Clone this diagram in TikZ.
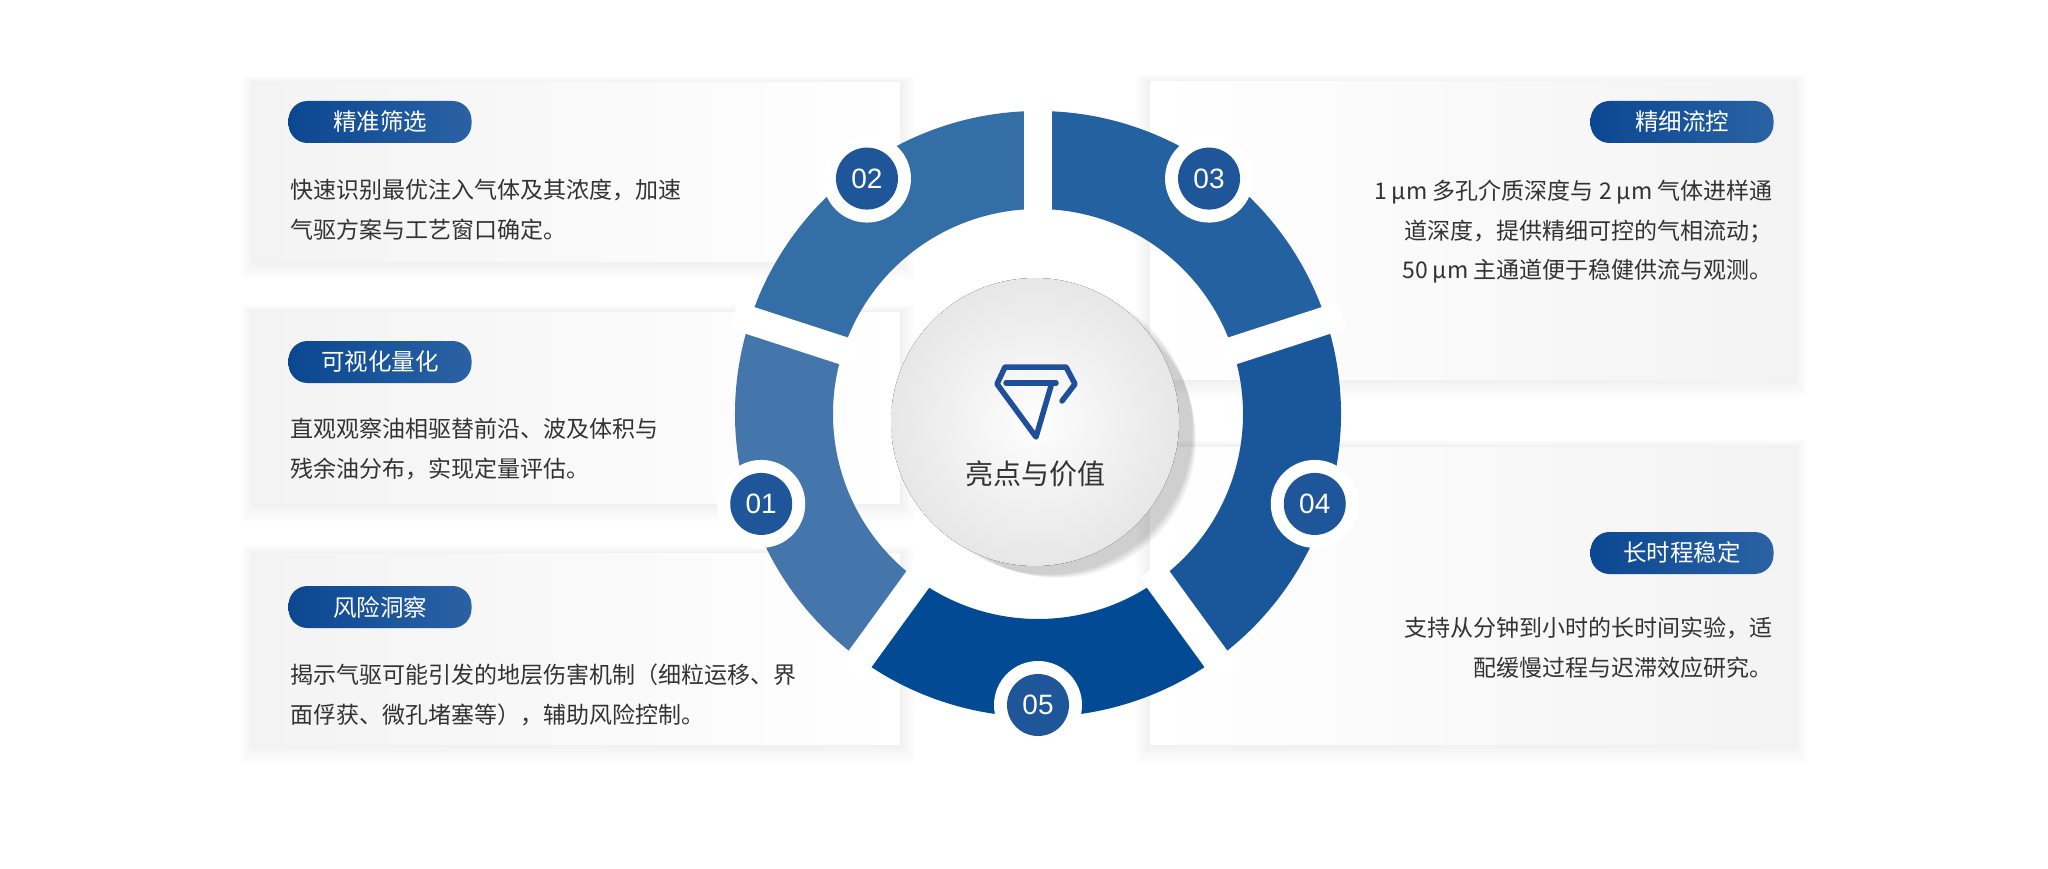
\documentclass[tikz,border=0pt]{standalone}
\usepackage{fontspec}
\setmainfont{Noto Sans CJK SC}
\newfontfamily\numfont{Liberation Sans}
\usetikzlibrary{calc}
\definecolor{txt}{HTML}{333333}
\definecolor{pillL}{HTML}{0B4791}
\definecolor{pillR}{HTML}{2A62A4}
\definecolor{segA}{HTML}{2461A0}
\definecolor{segB}{HTML}{336EA7}
\definecolor{segC}{HTML}{4476AC}
\definecolor{segD}{HTML}{024A93}
\definecolor{segE}{HTML}{19579A}
\definecolor{numc}{HTML}{1F5599}
\definecolor{cardg}{HTML}{F3F3F3}
\definecolor{icon}{HTML}{1F4E9A}
\tikzset{
  body/.style={font=\fontsize{23}{39.5}\selectfont, text=txt, inner sep=0pt, align=left},
  bodyr/.style={font=\fontsize{23}{39.5}\selectfont, text=txt, inner sep=0pt, align=right},
  pill/.style={rounded corners=19pt, minimum width=183pt, minimum height=42pt, left color=pillL, right color=pillR, text=white, font=\fontsize{23.5}{26}\selectfont, inner sep=0pt},
  numdot/.style={circle, fill=numc, minimum size=62pt, inner sep=0pt, text=white, font=\numfont\fontsize{28}{30}\selectfont},
  numring/.style={circle, fill=white, minimum size=88pt, inner sep=0pt},
}
\begin{document}
\begin{tikzpicture}[x=1pt,y=-1pt]
\fill[white] (0,0) rectangle (2048,869);
\useasboundingbox (0,0) rectangle (2048,869);
% card shadows
\foreach \a/\b/\c/\d in {255/83/900/261, 255/312/900/503, 255/553/900/744, 1150/82/1793/379, 1150/447/1793/744}{
  \foreach \k in {2,4,...,14}{
    \fill[black, opacity=0.006] (\a-\k,\b-\k/2) rectangle (\c+\k,\d+\k*1.3);
  }
}
% left cards
\foreach \b/\d in {83/261, 312/503, 553/744}{
  \fill[left color=cardg, right color=white] (255,\b) rectangle (900,\d);
}
% right cards
\foreach \b/\d in {82/379, 447/744}{
  \fill[left color=white, right color=cardg] (1150,\b) rectangle (1793,\d);
}
% ring
\begin{scope}[shift={(1038,414)}, y=1pt]
  \foreach \s/\e/\c in {18/90/segA, 90/162/segB, 162/234/segC, 234/306/segD, 306/378/segE}{
    \fill[\c] (\s:303) arc[start angle=\s, end angle=\e, radius=303] -- (\e:205) arc[start angle=\e, end angle=\s, radius=205] -- cycle;
  }
  \foreach \a in {18,90,162,234,306}{
    \draw[white, line width=28pt] (\a:192) -- (\a:320);
  }
  % center disc with shadow
  \foreach \i in {1,...,8}{
    \fill[black, opacity=0.025] (8+\i*1.5,-14-\i*1.5) circle[radius=146-\i];
  }
  \fill[inner color=white!90!cardg, outer color=cardg!95!black] (-3,-8) circle[radius=144];
  \node[numring] (r2) at (126:291) {};
  \node[numring] (r3) at (54:291) {};
  \node[numring] (r1) at (198:291) {};
  \node[numring] (r4) at (342:291) {};
  \node[numring] (r5) at (270:291) {};
  \node[numdot] (n2) at (r2) {02};
  \node[numdot] (n3) at (r3) {03};
  \node[numdot] (n1) at (r1) {01};
  \node[numdot] (n4) at (r4) {04};
  \node[numdot] (n5) at (r5) {05};
  % diamond icon
  \begin{scope}[shift={(-2,14)}, line width=5.5pt, line cap=round, line join=round, icon]
    \draw (15,14) -- (0,-37) -- (-39,16) -- (-31,33) -- (30,33) -- (39,16) -- (26,-1);
    \draw (-30,17) -- (20,17);
  \end{scope}
  \node[font=\fontsize{28}{30}\selectfont, text=txt] (title) at (-3,-60) {亮点与价值};
\end{scope}
% left pills and texts
\node[pill] (p1) at (380,122) {精准筛选};
\node[pill] (p2) at (380,362) {可视化量化};
\node[pill] (p3) at (380,607) {风险洞察};
\node[body, anchor=north west] (t1) at (290,179) {快速识别最优注入气体及其浓度，加速\\气驱方案与工艺窗口确定。};
\node[body, anchor=north west] (t2) at (290,418) {直观观察油相驱替前沿、波及体积与\\残余油分布，实现定量评估。};
\node[body, anchor=north west] (t3) at (290,664) {揭示气驱可能引发的地层伤害机制（细粒运移、界\\面俘获、微孔堵塞等），辅助风险控制。};
% right pills and texts
\node[pill] (p4) at (1682,122) {精细流控};
\node[pill] (p5) at (1682,553) {长时程稳定};
\node[bodyr, anchor=north east] (t4) at (1773,180) {1 µm 多孔介质深度与 2 µm 气体进样通\\道深度，提供精细可控的气相流动；\\50 µm 主通道便于稳健供流与观测。};
\node[bodyr, anchor=north east] (t5) at (1773,617) {支持从分钟到小时的长时间实验，适\\配缓慢过程与迟滞效应研究。};
\end{tikzpicture}
\end{document}
